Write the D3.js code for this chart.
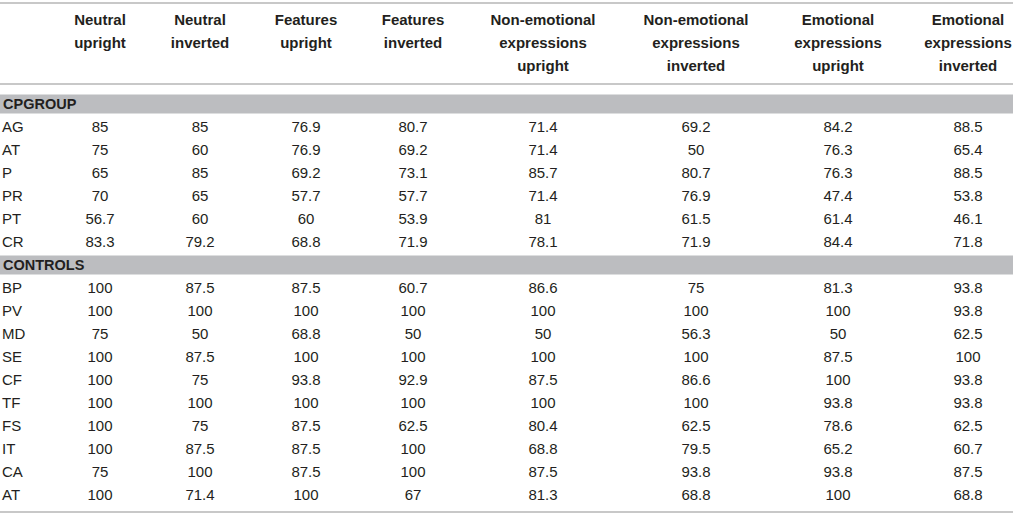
<!DOCTYPE html>
<html>
<head>
<meta charset="utf-8">
<script src="https://cdn.jsdelivr.net/npm/d3@7"></script>
<style>
  body { margin: 0; background: #fff; }
  svg text { font-family: "Liberation Sans", Arial, sans-serif; fill: #231f20; }
</style>
</head>
<body>
<div id="table"></div>
<script>
// column headers (each one split into lines)
var columns = [
  ["Neutral", "upright"],
  ["Neutral", "inverted"],
  ["Features", "upright"],
  ["Features", "inverted"],
  ["Non-emotional", "expressions", "upright"],
  ["Non-emotional", "expressions", "inverted"],
  ["Emotional", "expressions", "upright"],
  ["Emotional", "expressions", "inverted"]
];

// CP group
var cpGroup = "CPGROUP";
var cpLabels = ["AG", "AT", "P", "PR", "PT", "CR"];
var cpValues = [
  ["85", "85", "76.9", "80.7", "71.4", "69.2", "84.2", "88.5"],
  ["75", "60", "76.9", "69.2", "71.4", "50", "76.3", "65.4"],
  ["65", "85", "69.2", "73.1", "85.7", "80.7", "76.3", "88.5"],
  ["70", "65", "57.7", "57.7", "71.4", "76.9", "47.4", "53.8"],
  ["56.7", "60", "60", "53.9", "81", "61.5", "61.4", "46.1"],
  ["83.3", "79.2", "68.8", "71.9", "78.1", "71.9", "84.4", "71.8"]
];

// controls
var ctrlGroup = "CONTROLS";
var ctrlLabels = ["BP", "PV", "MD", "SE", "CF", "TF", "FS", "IT", "CA", "AT"];
var ctrlValues = [
  ["100", "87.5", "87.5", "60.7", "86.6", "75", "81.3", "93.8"],
  ["100", "100", "100", "100", "100", "100", "100", "93.8"],
  ["75", "50", "68.8", "50", "50", "56.3", "50", "62.5"],
  ["100", "87.5", "100", "100", "100", "100", "87.5", "100"],
  ["100", "75", "93.8", "92.9", "87.5", "86.6", "100", "93.8"],
  ["100", "100", "100", "100", "100", "100", "93.8", "93.8"],
  ["100", "75", "87.5", "62.5", "80.4", "62.5", "78.6", "62.5"],
  ["100", "87.5", "87.5", "100", "68.8", "79.5", "65.2", "60.7"],
  ["75", "100", "87.5", "100", "87.5", "93.8", "93.8", "87.5"],
  ["100", "71.4", "100", "67", "81.3", "68.8", "100", "68.8"]
];

var width = 1013, height = 516;
var lineColor = "#c8c8c8", bandColor = "#bcbdc0";

var svg = d3.select("#table")
  .append("svg")
  .attr("width", width)
  .attr("height", height);

// column centers
var x = d3.scaleOrdinal()
  .domain(d3.range(columns.length))
  .range([100, 200, 306, 413, 543, 696, 838, 968]);

// row centers: every row (bands included) is one step
var y = d3.scaleLinear().domain([0, 1]).range([104, 127]);

// header
svg.append("line")
  .attr("x1", 0).attr("x2", width)
  .attr("y1", 3).attr("y2", 3)
  .attr("stroke", lineColor).attr("stroke-width", 2);

var headLine = d3.scaleLinear().domain([0, 1]).range([19.5, 42.5]);

svg.append("g").selectAll("text")
  .data(columns)
  .join("text")
    .attr("text-anchor", "middle")
    .attr("font-weight", "bold")
    .attr("font-size", "15px")
    .attr("transform", function(d, i) { return "translate(" + x(i) + ",0)"; })
    .selectAll("tspan")
    .data(function(d) { return d; })
    .join("tspan")
      .attr("x", 0)
      .attr("y", function(d, j) { return headLine(j); })
      .attr("dy", "0.36em")
      .text(function(d) { return d; });

svg.append("line")
  .attr("x1", 0).attr("x2", width)
  .attr("y1", 84).attr("y2", 84)
  .attr("stroke", lineColor).attr("stroke-width", 2);

// one group: gray band with its name, then its rows
function drawGroup(name, labels, values, start) {
  var g = svg.append("g");

  g.append("rect")
    .attr("x", 0).attr("y", y(start) - 9.5)
    .attr("width", width).attr("height", 19)
    .attr("fill", bandColor);

  g.append("text")
    .attr("x", 3)
    .attr("y", y(start))
    .attr("dy", "0.36em")
    .attr("font-weight", "bold")
    .attr("font-size", "14.5px")
    .text(name);

  var rows = g.selectAll("g.row")
    .data(values)
    .join("g")
      .attr("class", "row")
      .attr("transform", function(d, i) { return "translate(0," + y(start + 1 + i) + ")"; });

  rows.append("text")
    .attr("x", 2)
    .attr("dy", "0.36em")
    .attr("font-size", "15px")
    .text(function(d, i) { return labels[i]; });

  rows.selectAll("text.val")
    .data(function(d) { return d; })
    .join("text")
      .attr("class", "val")
      .attr("x", function(d, j) { return x(j); })
      .attr("dy", "0.36em")
      .attr("text-anchor", "middle")
      .attr("font-size", "15px")
      .text(function(d) { return d; });

  return start + 1 + labels.length;
}

var next = drawGroup(cpGroup, cpLabels, cpValues, 0);
drawGroup(ctrlGroup, ctrlLabels, ctrlValues, next);

svg.append("line")
  .attr("x1", 0).attr("x2", width)
  .attr("y1", 512).attr("y2", 512)
  .attr("stroke", lineColor).attr("stroke-width", 2);
</script>
</body>
</html>
